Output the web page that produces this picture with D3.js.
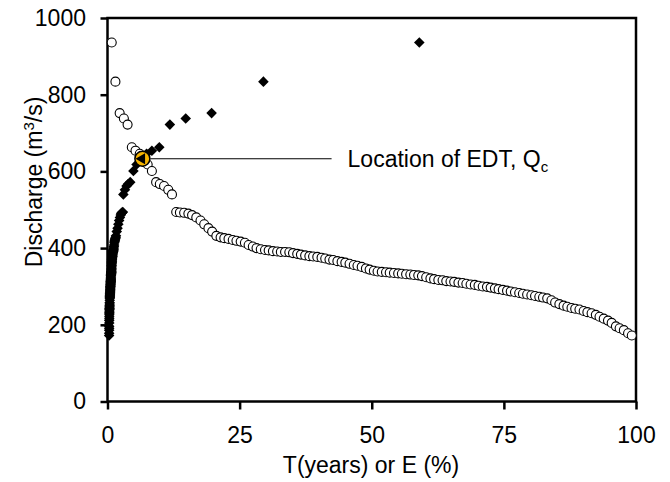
<!DOCTYPE html>
<html>
<head>
<meta charset="utf-8">
<script src="https://cdn.jsdelivr.net/npm/d3@7"></script>
<style>
  body { margin: 0; background: #fff; }
  text { font-family: Arial, "Liberation Sans", sans-serif; fill: #000; }
</style>
</head>
<body>
<div id="chart"></div>
<script>
// discharge (m3/s), sorted from highest to lowest
const discharge = [
  936, 834, 752, 738, 722, 663, 654, 646, 633, 618,
  601, 572, 567, 562, 552, 540, 494, 493, 492, 490,
  486, 480, 472, 462, 452, 443, 432, 428, 426, 424,
  421, 419, 417, 414, 408, 404, 400, 397, 395, 394,
  392, 391, 390, 390, 389, 387, 385, 383, 381, 379,
  378, 377, 375, 373, 370, 369, 366, 364, 362, 359,
  356, 354, 351, 347, 344, 341, 339, 338, 337, 336,
  335, 334, 333, 332, 331, 330, 329, 327, 324, 321,
  319, 317, 316, 314, 313, 312, 310, 309, 307, 305,
  304, 302, 300, 299, 297, 295, 293, 291, 289, 287,
  285, 283, 281, 279, 277, 275, 273, 271, 269, 264,
  258, 254, 250, 247, 244, 242, 240, 236, 233, 230,
  226, 221, 216, 211, 205, 196, 191, 186, 178, 172
];

// exceedance E (%) of each discharge (open circles)
const exceedance = [
  0.8, 1.5, 2.3, 3.1, 3.8, 4.6, 5.3, 6.1, 6.9, 7.6,
  8.4, 9.2, 9.9, 10.7, 11.5, 12.2, 13.0, 13.7, 14.5, 15.3,
  16.0, 16.8, 17.6, 18.3, 19.1, 19.8, 20.6, 21.4, 22.1, 22.9,
  23.7, 24.4, 25.2, 26.0, 26.7, 27.5, 28.2, 29.0, 29.8, 30.5,
  31.3, 32.1, 32.8, 33.6, 34.4, 35.1, 35.9, 36.6, 37.4, 38.2,
  38.9, 39.7, 40.5, 41.2, 42.0, 42.7, 43.5, 44.3, 45.0, 45.8,
  46.6, 47.3, 48.1, 48.9, 49.6, 50.4, 51.1, 51.9, 52.7, 53.4,
  54.2, 55.0, 55.7, 56.5, 57.3, 58.0, 58.8, 59.5, 60.3, 61.1,
  61.8, 62.6, 63.4, 64.1, 64.9, 65.6, 66.4, 67.2, 67.9, 68.7,
  69.5, 70.2, 71.0, 71.8, 72.5, 73.3, 74.0, 74.8, 75.6, 76.3,
  77.1, 77.9, 78.6, 79.4, 80.2, 80.9, 81.7, 82.4, 83.2, 84.0,
  84.7, 85.5, 86.3, 87.0, 87.8, 88.5, 89.3, 90.1, 90.8, 91.6,
  92.4, 93.1, 93.9, 94.7, 95.4, 96.2, 96.9, 97.7, 98.5, 99.2
];

// return period T (years) of each discharge (black diamonds)
const returnPeriod = [
  59.0, 29.5, 19.7, 14.8, 11.8, 9.8, 8.4, 7.4, 6.6, 5.5,
  4.9, 4.3, 3.9, 3.6, 3.3, 3.0, 2.9, 2.8, 2.7, 2.6,
  2.5, 2.35, 2.2, 2.05, 1.9, 1.75, 1.6, 1.55, 1.5, 1.45,
  1.4, 1.37, 1.34, 1.3, 1.25, 1.21, 1.18, 1.15, 1.12, 1.1,
  1.08, 1.06, 1.04, 1.02, 1.0, 0.98, 0.96, 0.95, 0.93, 0.92,
  0.9, 0.89, 0.88, 0.86, 0.85, 0.84, 0.83, 0.82, 0.81, 0.8,
  0.79, 0.78, 0.77, 0.76, 0.75, 0.74, 0.73, 0.72, 0.71, 0.7,
  0.7, 0.69, 0.68, 0.67, 0.67, 0.66, 0.65, 0.65, 0.64, 0.63,
  0.63, 0.62, 0.62, 0.61, 0.61, 0.6, 0.6, 0.59, 0.58, 0.57,
  0.56, 0.56, 0.55, 0.54, 0.53, 0.53, 0.52, 0.51, 0.5, 0.5,
  0.49, 0.48, 0.47, 0.47, 0.46, 0.45, 0.44, 0.44, 0.43, 0.42,
  0.41, 0.41, 0.4, 0.39, 0.38, 0.38, 0.37, 0.36, 0.36, 0.35,
  0.35, 0.34, 0.34, 0.33, 0.33, 0.32, 0.32, 0.31, 0.31, 0.3
];

const xTicks = [0, 25, 50, 75, 100];
const yTicks = [0, 200, 400, 600, 800, 1000];

// location of EDT (where T = E)
const edtX = 6.6, edtQ = 633;
const calloutEndX = 42.4;

const width = 670, height = 482;
const fontSize = 23;

const svg = d3.select("#chart")
  .append("svg")
  .attr("width", width)
  .attr("height", height);

// Scales
const x = d3.scaleLinear().domain([0, 100]).range([107.5, 636]);
const y = d3.scaleLinear().domain([0, 1000]).range([401.5, 18]);

// Plot frame
svg.append("rect")
  .attr("x", x(0)).attr("y", y(1000))
  .attr("width", x(100) - x(0))
  .attr("height", y(0) - y(1000))
  .attr("fill", "none")
  .attr("stroke", "#000")
  .attr("stroke-width", 2.5);

// Y axis
const yAxis = svg.append("g")
  .attr("transform", `translate(${x(0)},0)`)
  .call(d3.axisLeft(y).tickValues(yTicks).tickFormat(d3.format("d"))
    .tickSize(7).tickSizeOuter(0).tickPadding(14.5));
yAxis.select(".domain").remove();
yAxis.selectAll(".tick line").attr("stroke-width", 2.5);
yAxis.selectAll("text").attr("font-size", fontSize).attr("font-family", "Arial, 'Liberation Sans', sans-serif");

// X axis
const xAxis = svg.append("g")
  .attr("transform", `translate(0,${y(0)})`)
  .call(d3.axisBottom(x).tickValues(xTicks).tickFormat(d3.format("d"))
    .tickSize(8).tickSizeOuter(0).tickPadding(17));
xAxis.select(".domain").remove();
xAxis.selectAll(".tick line").attr("stroke-width", 2.5);
xAxis.selectAll("text").attr("font-size", fontSize).attr("font-family", "Arial, 'Liberation Sans', sans-serif");

// Axis titles
svg.append("text")
  .attr("x", 371)
  .attr("y", 473)
  .attr("text-anchor", "middle")
  .attr("font-size", fontSize)
  .text("T(years) or E (%)");

const yTitle = svg.append("text")
  .attr("transform", "translate(42,182) rotate(-90)")
  .attr("text-anchor", "middle")
  .attr("font-size", fontSize);
yTitle.append("tspan").text("Discharge (m");
yTitle.append("tspan").attr("font-size", 15).attr("dy", -8).text("3");
yTitle.append("tspan").attr("dy", 8).text("/s)");

// Flow duration points (open circles)
svg.append("g")
  .selectAll("circle")
  .data(discharge)
  .enter()
  .append("circle")
  .attr("cx", (d, i) => x(exceedance[i]))
  .attr("cy", d => y(d))
  .attr("r", 4.5)
  .attr("fill", "#fff")
  .attr("stroke", "#000")
  .attr("stroke-width", 1.1);

// Return period points (diamonds)
const diamond = d3.symbol().type(d3.symbolSquare).size(56);
svg.append("g")
  .selectAll("path")
  .data(discharge)
  .enter()
  .append("path")
  .attr("d", diamond)
  .attr("transform", (d, i) => `translate(${x(returnPeriod[i])},${y(d)}) rotate(45)`)
  .attr("fill", "#000");

// EDT marker
svg.append("circle")
  .attr("cx", x(edtX))
  .attr("cy", y(edtQ))
  .attr("r", 7.5)
  .attr("fill", "#F5B300")
  .attr("stroke", "#000")
  .attr("stroke-width", 1.5);

svg.append("path")
  .attr("d", d3.symbol().type(d3.symbolTriangle).size(52))
  .attr("transform", `translate(${x(edtX) - 0.5},${y(edtQ)}) rotate(-90)`)
  .attr("fill", "#000");

// Callout
svg.append("line")
  .attr("x1", x(edtX) + 8)
  .attr("x2", x(calloutEndX))
  .attr("y1", y(edtQ))
  .attr("y2", y(edtQ))
  .attr("stroke", "#000")
  .attr("stroke-width", 1.2);

const label = svg.append("text")
  .attr("x", x(calloutEndX) + 16)
  .attr("y", y(edtQ) + 8.5)
  .attr("font-size", fontSize);
label.append("tspan").text("Location of EDT, Q");
label.append("tspan").attr("font-size", 15).attr("dy", 5).text("c");
</script>
</body>
</html>
